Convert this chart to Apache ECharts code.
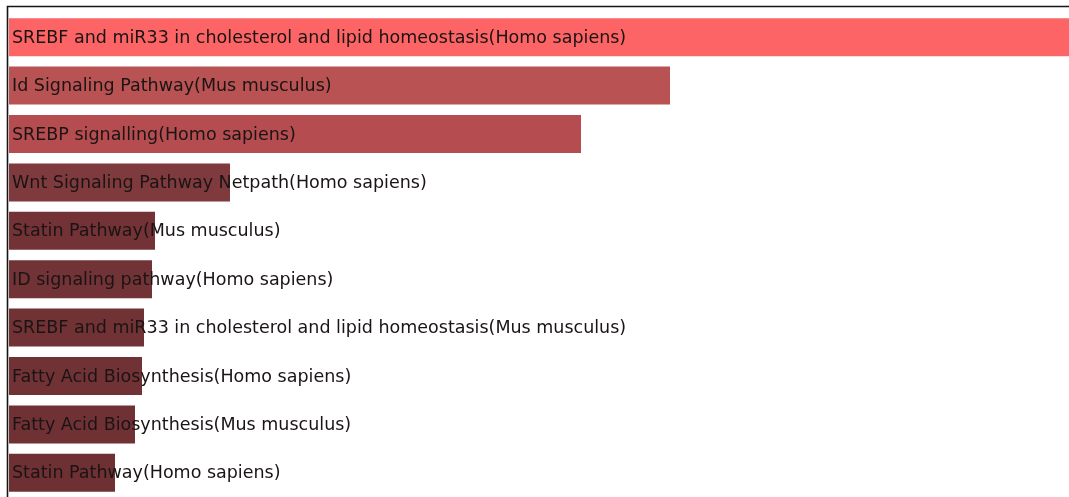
<!DOCTYPE html>
<html>
<head>
<meta charset="utf-8">
<script src="https://cdn.jsdelivr.net/npm/echarts@6/dist/echarts.min.js"></script>
<style>
  html, body { margin: 0; padding: 0; background: #fff; }
  #chart { width: 1069px; height: 497px; }
</style>
</head>
<body>
<div id="chart"></div>
<script>
// Pathway terms, ranked by score (top to bottom)
const pathways = [
  'SREBF and miR33 in cholesterol and lipid homeostasis(Homo sapiens)',
  'Id Signaling Pathway(Mus musculus)',
  'SREBP signalling(Homo sapiens)',
  'Wnt Signaling Pathway Netpath(Homo sapiens)',
  'Statin Pathway(Mus musculus)',
  'ID signaling pathway(Homo sapiens)',
  'SREBF and miR33 in cholesterol and lipid homeostasis(Mus musculus)',
  'Fatty Acid Biosynthesis(Homo sapiens)',
  'Fatty Acid Biosynthesis(Mus musculus)',
  'Statin Pathway(Homo sapiens)'
];

// Enrichment score for each pathway
const scores = [1060, 661, 572, 221, 146, 143, 135, 133, 126, 106];

// Fill colour per bar, brighter for higher scores
const barColors = [
  '#fd6465', '#b95253', '#b54d50', '#7e3a3d', '#733336',
  '#723336', '#713235', '#713235', '#703134', '#6e3033'
];

const chart = echarts.init(document.getElementById('chart'), null, { renderer: 'canvas' });

chart.setOption({
  backgroundColor: '#ffffff',
  animation: false,
  grid: { left: 9, right: 0, top: 13, height: 485, containLabel: false },
  xAxis: {
    type: 'value', min: 0, max: 1060,
    show: false
  },
  yAxis: {
    type: 'category', data: pathways, inverse: true,
    show: false
  },
  graphic: [{
    type: 'polyline',
    silent: true,
    shape: { points: [[7.5, 497], [7.5, 6.5], [1069, 6.5]] },
    style: { stroke: '#151515', lineWidth: 1.6, fill: null }
  }],
  series: [{
    type: 'bar',
    barWidth: 38,
    data: scores.map((v, i) => ({ value: v, itemStyle: { color: barColors[i] } })),
    label: {
      show: true,
      position: 'insideLeft',
      distance: 3,
      offset: [0, 1],
      formatter: '{b}',
      color: '#1a1414',
      fontFamily: 'DejaVu Sans',
      fontSize: 17.5
    }
  }]
});
</script>
</body>
</html>
